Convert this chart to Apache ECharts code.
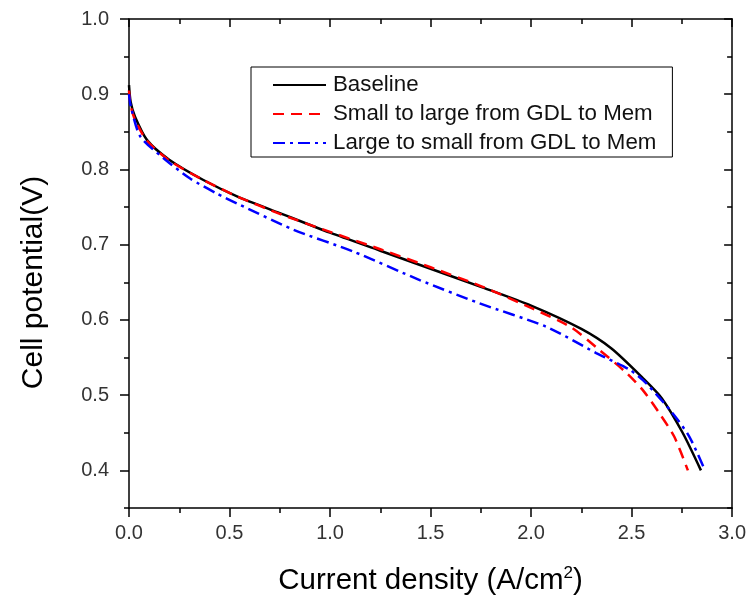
<!DOCTYPE html>
<html>
<head>
<meta charset="utf-8">
<script src="https://cdn.jsdelivr.net/npm/echarts@6/dist/echarts.min.js"></script>
<style>html,body{margin:0;padding:0;background:#fff}#c{width:749px;height:603px}</style>
</head>
<body>
<div id="c"></div>
<script>
// ---- data ----
const seriesNames = ['Baseline', 'Small to large from GDL to Mem', 'Large to small from GDL to Mem'];

const baselineI = [0, 0.008, 0.03, 0.09, 0.2, 0.37, 0.54, 0.75, 1.0, 1.25, 1.5, 1.75, 2.0, 2.25, 2.4, 2.555, 2.65, 2.754, 2.845];
const baselineV = [0.912, 0.89, 0.870, 0.839, 0.813, 0.786, 0.764, 0.742, 0.716, 0.692, 0.668, 0.644, 0.619, 0.588, 0.562, 0.523, 0.496, 0.450, 0.400];

const smallLargeI = [0, 0.008, 0.03, 0.09, 0.2, 0.37, 0.54, 0.75, 1.0, 1.25, 1.5, 1.75, 2.0, 2.2, 2.34, 2.473, 2.555, 2.638, 2.712, 2.78];
const smallLargeV = [0.905, 0.885, 0.866, 0.838, 0.812, 0.786, 0.764, 0.741, 0.717, 0.694, 0.670, 0.645, 0.616, 0.590, 0.560, 0.530, 0.507, 0.476, 0.445, 0.400];

const largeSmallI = [0, 0.008, 0.056, 0.172, 0.304, 0.437, 0.536, 0.817, 1.115, 1.446, 1.744, 2.075, 2.324, 2.489, 2.572, 2.704, 2.787, 2.862];
const largeSmallV = [0.900, 0.885, 0.844, 0.815, 0.788, 0.768, 0.755, 0.720, 0.691, 0.653, 0.622, 0.591, 0.556, 0.534, 0.516, 0.476, 0.445, 0.402];

const yMajorTicks = [0.4, 0.5, 0.6, 0.7, 0.8, 0.9, 1.0];

// ---- chart ----
const zip = (a, b) => a.map((v, i) => [v, b[i]]);
const FONT = 'Liberation Sans, Arial, sans-serif';
const chart = echarts.init(document.getElementById('c'), null, {renderer: 'canvas'});

const yBase = {min: 0.35, max: 1.0, interval: 0.05, splitLine: {show: false}};
const xBase = {type: 'value', min: 0, max: 3, interval: 0.5, splitLine: {show: false}};

chart.setOption({
  backgroundColor: '#fff',
  animation: false,
  grid: {left: 129, right: 16, top: 19, bottom: 95, containLabel: false},
  legend: {
    orient: 'vertical', left: 251, top: 67,
    padding: [7, 16, 3, 21],
    backgroundColor: '#fff', borderColor: '#000', borderWidth: 1,
    itemWidth: 53, itemHeight: 14, itemGap: 7,
    itemStyle: {opacity: 0},
    textStyle: {fontFamily: FONT, fontSize: 22.3, color: '#111', lineHeight: 22, padding: [0, 0, 0, 2]},
    data: seriesNames
  },
  xAxis: [
    Object.assign({}, xBase, {
      position: 'bottom',
      axisLine: {lineStyle: {color: '#000', width: 1.5}},
      axisTick: {length: 9, lineStyle: {color: '#000', width: 1.5}},
      minorTick: {show: true, splitNumber: 2, length: 5, lineStyle: {color: '#000', width: 1.5}},
      axisLabel: {margin: 15, fontFamily: FONT, fontSize: 20, color: '#333', formatter: v => v.toFixed(1)},
      name: '{a|Current density (A/cm}{s|2}{a|)}',
      nameLocation: 'middle', nameGap: 57,
      nameTextStyle: {rich: {
        a: {fontFamily: FONT, fontSize: 29.5, color: '#000'},
        s: {fontFamily: FONT, fontSize: 17, color: '#000', verticalAlign: 'top', padding: [0, 0, 14, 0]}
      }}
    }),
    Object.assign({}, xBase, {
      position: 'top',
      axisLine: {lineStyle: {color: '#000', width: 1.5}},
      axisTick: {inside: true, length: 8, lineStyle: {color: '#000', width: 1.5}},
      minorTick: {show: true, splitNumber: 2, length: 5, lineStyle: {color: '#000', width: 1.5}},
      axisLabel: {show: false}
    })
  ],
  yAxis: [
    Object.assign({}, yBase, {
      type: 'value', position: 'left',
      axisLine: {show: true, lineStyle: {color: '#000', width: 1.5}},
      axisTick: {show: true, customValues: yMajorTicks, length: 9, lineStyle: {color: '#000', width: 1.5}},
      axisLabel: {customValues: yMajorTicks, margin: 20, fontFamily: FONT, fontSize: 20, color: '#333', formatter: v => v.toFixed(1)},
      name: 'Cell potential(V)', nameLocation: 'middle', nameGap: 80, nameRotate: 90,
      nameTextStyle: {fontFamily: FONT, fontSize: 30, color: '#000', padding: [0, 38, 0, 0]}
    }),
    Object.assign({}, yBase, {
      type: 'value', position: 'left',
      axisLine: {show: false},
      axisTick: {show: true, length: 5, lineStyle: {color: '#000', width: 1.5}},
      axisLabel: {show: false}
    }),
    Object.assign({}, yBase, {
      type: 'value', position: 'right',
      axisLine: {show: true, lineStyle: {color: '#000', width: 1.5}},
      axisTick: {show: true, inside: true, customValues: yMajorTicks, length: 8, lineStyle: {color: '#000', width: 1.5}},
      axisLabel: {show: false}
    }),
    Object.assign({}, yBase, {
      type: 'value', position: 'right',
      axisLine: {show: false},
      axisTick: {show: true, inside: true, length: 5, lineStyle: {color: '#000', width: 1.5}},
      axisLabel: {show: false}
    })
  ],
  series: [
    {
      name: seriesNames[0], type: 'line', xAxisIndex: 0, yAxisIndex: 0,
      data: zip(baselineI, baselineV), showSymbol: false, symbol: 'none',
      smooth: 0.25,
      lineStyle: {color: '#000', width: 2.5, type: 'solid'}, itemStyle: {color: '#000'}
    },
    {
      name: seriesNames[1], type: 'line', xAxisIndex: 0, yAxisIndex: 0,
      data: zip(smallLargeI, smallLargeV), showSymbol: false, symbol: 'none',
      smooth: 0.25,
      lineStyle: {color: '#ff0000', width: 2.5, type: [11, 7]}, itemStyle: {color: '#ff0000'}
    },
    {
      name: seriesNames[2], type: 'line', xAxisIndex: 0, yAxisIndex: 0,
      data: zip(largeSmallI, largeSmallV), showSymbol: false, symbol: 'none',
      smooth: 0.25,
      lineStyle: {color: '#0000ff', width: 2.5, type: [12, 5, 3, 5]}, itemStyle: {color: '#0000ff'}
    }
  ]
});
</script>
</body>
</html>
